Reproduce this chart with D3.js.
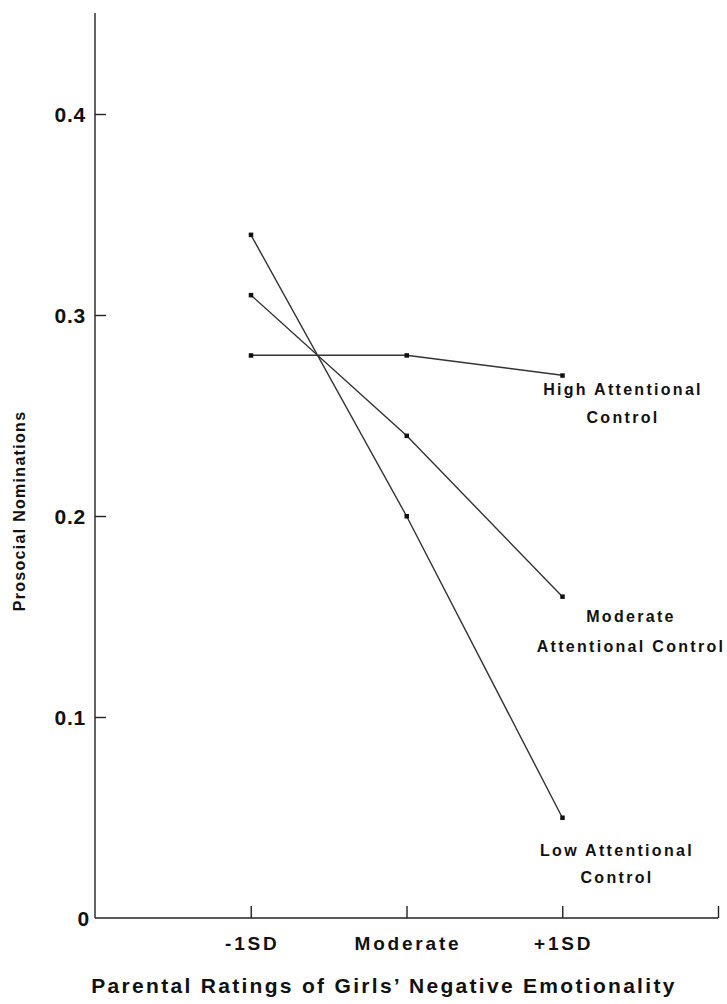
<!DOCTYPE html>
<html><head><meta charset="utf-8">
<script src="https://cdn.jsdelivr.net/npm/d3@7"></script>
<style>body{margin:0;background:#fff}svg{display:block}</style>
</head><body>
<svg id="c" width="727" height="1004"></svg>
<script>
const xCategories = ["-1SD", "Moderate", "+1SD"];
const yTicks = [0, 0.1, 0.2, 0.3, 0.4];
const yTickLabels = ["0", "0.1", "0.2", "0.3", "0.4"];
const lowAC = [0.34, 0.20, 0.05];
const moderateAC = [0.31, 0.24, 0.16];
const highAC = [0.28, 0.28, 0.27];
const seriesNames = [["High Attentional", "Control"], ["Moderate", "Attentional Control"], ["Low Attentional", "Control"]];
const xTitle = "Parental Ratings of Girls\u2019 Negative Emotionality";
const yTitle = "Prosocial Nominations";

const svg = d3.select("#c");
const font = "'Liberation Sans', Arial, Helvetica, sans-serif";
const x = d3.scaleLinear().domain([0, 4]).range([95, 718]);
const y = d3.scaleLinear().domain([0, 0.4]).range([918, 114]);
const yTop = y.invert(13);

// Axes lines
svg.append("line").attr("x1", x(0)).attr("x2", x(0)).attr("y1", y(yTop)).attr("y2", y(0))
  .attr("stroke", "#222").attr("stroke-width", 1.4);
svg.append("line").attr("x1", x(0)).attr("x2", x(4)).attr("y1", y(0)).attr("y2", y(0))
  .attr("stroke", "#222").attr("stroke-width", 1.4);

// Y ticks
const yAxis = d3.axisRight(y).tickValues(yTicks.filter(v => v > 0)).tickSize(11).tickFormat("");
const gy = svg.append("g").attr("transform", `translate(${x(0)},0)`).call(yAxis);
gy.select(".domain").remove();
gy.selectAll("line").attr("stroke", "#222").attr("stroke-width", 1.4);
yTicks.forEach((v, i) => {
  svg.append("text").attr("x", v === 0 ? 90 : 86).attr("y", y(v)).attr("dy", "0.36em")
    .attr("text-anchor", "end").attr("font-family", font).attr("font-weight", "bold")
    .attr("font-size", 21).attr("letter-spacing", 0.8).attr("fill", "#111").text(yTickLabels[i]);
});

// X ticks
const xAxis = d3.axisTop(x).tickValues([1, 2, 3, 4]).tickSize(12).tickFormat("");
const gx = svg.append("g").attr("transform", `translate(0,${y(0)})`).call(xAxis);
gx.select(".domain").remove();
gx.selectAll("line").attr("stroke", "#222").attr("stroke-width", 1.4);
xCategories.forEach((c, i) => {
  svg.append("text").attr("x", x(i + 1) + 1.5).attr("y", 950)
    .attr("text-anchor", "middle").attr("font-family", font).attr("font-weight", "bold")
    .attr("font-size", 19).attr("fill", "#111").attr("letter-spacing", 2.8).text(c);
});

// Titles
svg.append("text").attr("x", 384).attr("y", 993).attr("text-anchor", "middle")
  .attr("font-family", font).attr("font-weight", "bold").attr("font-size", 21)
  .attr("letter-spacing", 2.3).attr("fill", "#111").text(xTitle);
svg.append("text").attr("transform", "translate(25,511) rotate(-90)").attr("text-anchor", "middle")
  .attr("font-family", font).attr("font-weight", "bold").attr("font-size", 16)
  .attr("letter-spacing", 1.3).attr("fill", "#111").text(yTitle);

// Series
const series = [highAC, moderateAC, lowAC];
const line = d3.line().x((d, i) => x(i + 1)).y(d => y(d));
series.forEach(s => {
  svg.append("path").attr("d", line(s)).attr("fill", "none").attr("stroke", "#333").attr("stroke-width", 1.4);
  svg.selectAll(null).data(s).enter().append("rect")
    .attr("x", (d, i) => x(i + 1) - 2).attr("y", d => y(d) - 2)
    .attr("width", 4.5).attr("height", 4.5).attr("fill", "#111");
});

// Series labels
const labelPos = [[623, 395, 423], [631, 622, 652], [617, 856, 883]];
seriesNames.forEach((lines, k) => {
  lines.forEach((t, j) => {
    svg.append("text").attr("x", labelPos[k][0]).attr("y", labelPos[k][1 + j])
      .attr("text-anchor", "middle").attr("font-family", font).attr("font-weight", "bold")
      .attr("font-size", 16).attr("letter-spacing", 2.3).attr("fill", "#111").text(t);
  });
});
</script>
</body></html>
